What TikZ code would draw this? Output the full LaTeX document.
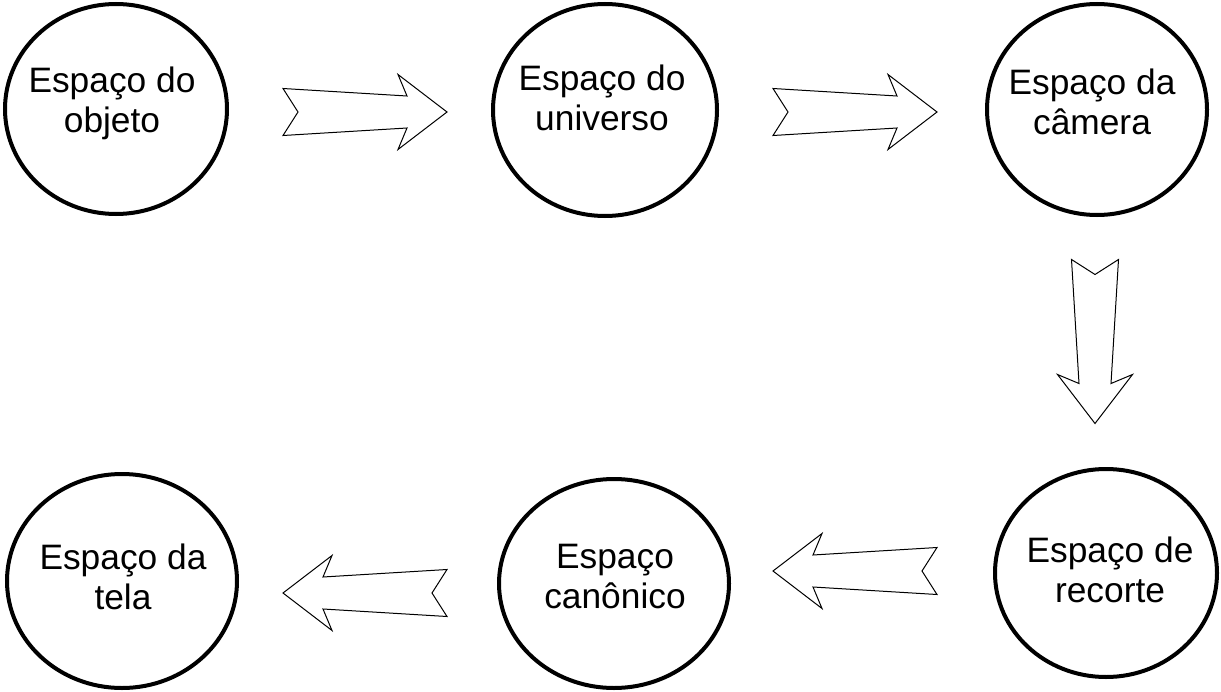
\documentclass[tikz,border=0pt]{standalone}
\usepackage{fontspec}
\setmainfont{Liberation Sans}
\usetikzlibrary{shapes.geometric}

\begin{document}
\begin{tikzpicture}[
    x=0.75pt, y=-0.75pt,
    espaco/.style={draw, ellipse, line width=3pt, minimum width=166.5pt, minimum height=157.5pt, inner sep=0pt},
    rotulo/.style={font=\fontsize{26.5}{30}\selectfont, align=center},
    seta/.style={draw, line width=0.75pt, fill=white, line join=miter},
    setabloco/.pic={
        \draw[seta] (-82,-23.5) -- (-67,0) -- (-82,23.5) -- (42,16) -- (33,37.5)
            -- (82,0) -- (33,-37.5) -- (42,-16) -- cycle;
    }
]
    \useasboundingbox (0,0) rectangle (1221,692);

    % espacos
    \node[espaco, label={[rotulo, shift={(-4,-5.5)}]center:{Espaço do\\objeto}}] (objeto) at (116,109) {};
    \node[espaco, minimum width=168pt, minimum height=159pt,
          label={[rotulo, shift={(-3,-12.5)}]center:{Espaço do\\universo}}] (universo) at (605,110) {};
    \node[espaco, minimum width=165pt, minimum height=158.25pt,
          label={[rotulo, shift={(-5,-8)}]center:{Espaço da\\câmera}}] (camera) at (1097,109.5) {};
    \node[espaco, minimum height=156pt,
          label={[rotulo, shift={(4,-3.5)}]center:{Espaço de\\recorte}}] (recorte) at (1106,573) {};
    \node[espaco, minimum width=172.5pt, minimum height=156.75pt,
          label={[rotulo, shift={(1,-7)}]center:{Espaço\\canônico}}] (canonico) at (614,583.5) {};
    \node[espaco, minimum width=172.5pt, minimum height=160.5pt,
          label={[rotulo, shift={(1,-4.5)}]center:{Espaço da\\tela}}] (tela) at (122,581) {};

    % setas
    \pic at (365,112) {setabloco};
    \pic at (855,112) {setabloco};
    \pic[rotate=-90] at (1095,341.5) {setabloco};
    \pic[rotate=180] at (855,571) {setabloco};
    \pic[rotate=180] at (365,593) {setabloco};
\end{tikzpicture}
\end{document}
